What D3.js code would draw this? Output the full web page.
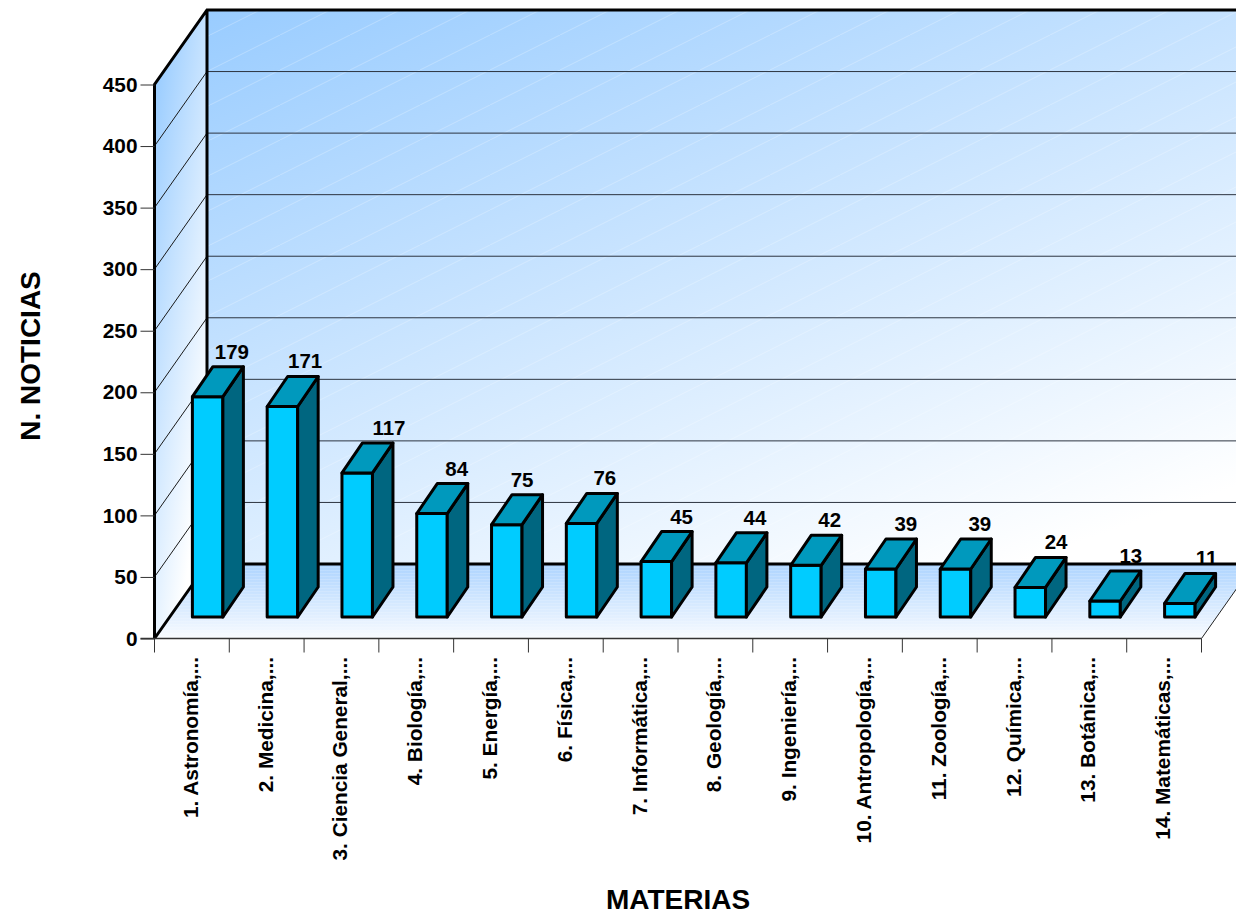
<!DOCTYPE html>
<html><head><meta charset="utf-8">
<script src="https://cdn.jsdelivr.net/npm/d3@7"></script>
<style>
html,body{margin:0;padding:0;background:#fff}
svg{display:block}
text{font-family:"Liberation Sans",Arial,sans-serif;font-weight:bold;fill:#000}
</style></head><body><div id="c"></div>
<script>
const categories=["1. Astronomía,...","2. Medicina,...","3. Ciencia General,...","4. Biología,...","5. Energía,...","6. Física,...","7. Informática,...","8. Geología,...","9. Ingeniería,...","10. Antropología,...","11. Zoología,...","12. Química,...","13. Botánica,...","14. Matemáticas,..."];
const values=[179,171,117,84,75,76,45,44,42,39,39,24,13,11];
const yTicks=[0,50,100,150,200,250,300,350,400,450];
const yTitle="N. NOTICIAS", xTitle="MATERIAS";

const W=1236,H=916;
const pLeft=154.5,pRight=1201.5,pBottom=638.5,pTop=84.5;
const depthX=52.5,depthY=-74.5;
const barDX=20.5,barDY=-30,barInset=-21.5,barShift=15.5;
const labelNudge=[24.5,23,32,25,15.5,23.5,25.5,24,24,25.4,24.6,26,26,27];
const slot=d3.scaleBand().domain(categories).range([pLeft,pRight]);
const y=d3.scaleLinear().domain([0,450]).range([pBottom,pTop]);

const svg=d3.select("#c").append("svg").attr("width",W).attr("height",H);
const defs=svg.append("defs");
function grad(id,x1,y1,x2,y2,stops){
  const g=defs.append("linearGradient").attr("id",id).attr("gradientUnits","userSpaceOnUse")
    .attr("x1",x1).attr("y1",y1).attr("x2",x2).attr("y2",y2);
  stops.forEach(s=>g.append("stop").attr("offset",s[0]).attr("stop-color",s[1]));
}
grad("wall",207,9,471,757,[[0,"#99ccff"],[1,"#ffffff"]]);
grad("side",154,84,254,98,[[0,"#99ccff"],[1,"#ffffff"]]);
grad("floor",0,564,0,640,[[0,"#add4ff"],[1,"#fafcff"]]);
const p1=defs.append("pattern").attr("id","stripes").attr("patternUnits","userSpaceOnUse")
  .attr("width",70).attr("height",35);
p1.append("path").attr("d","M0,35L70,0").attr("stroke","#fff").attr("stroke-opacity",.25).attr("stroke-width",1);
const p2=defs.append("pattern").attr("id","hlines").attr("patternUnits","userSpaceOnUse")
  .attr("width",8).attr("height",3);
p2.append("rect").attr("y",0).attr("width",8).attr("height",1).attr("fill","#fff").attr("fill-opacity",.15);

const poly=pts=>"M"+pts.map(p=>p.join(",")).join("L")+"Z";
const backL=pLeft+depthX, backB=pBottom+depthY, backT=pTop+depthY;

const wallD=poly([[backL,backT],[W+60,backT],[W+60,backB],[backL,backB]]);
svg.append("path").attr("d",wallD).attr("fill","url(#wall)");
svg.append("path").attr("d",wallD).attr("fill","url(#stripes)");
const sideD=poly([[pLeft,pTop],[backL,backT],[backL,backB],[pLeft,pBottom]]);
svg.append("path").attr("d",sideD).attr("fill","url(#side)");
const floorD=poly([[pLeft,pBottom],[pRight,pBottom],[pRight+depthX,backB],[backL,backB]]);
svg.append("path").attr("d",floorD).attr("fill","url(#floor)");
svg.append("path").attr("d",floorD).attr("fill","url(#hlines)");

const inner=yTicks.filter(d=>d>0);
svg.append("g").selectAll("line").data(inner).join("line")
  .attr("x1",backL).attr("x2",W).attr("y1",d=>y(d)+depthY).attr("y2",d=>y(d)+depthY)
  .attr("stroke","#2c3440").attr("stroke-width",1);
svg.append("g").selectAll("line").data(inner.slice(0,-1)).join("line")
  .attr("x1",pLeft).attr("x2",backL).attr("y1",d=>y(d)).attr("y2",d=>y(d)+depthY)
  .attr("stroke","#1a1a1a").attr("stroke-width",1);

svg.append("path").attr("d",`M${pLeft},${pBottom}V${pTop}L${backL},${backT}H${W}M${backL},${backT}V${backB}H${W}M${pLeft},${pBottom}L${backL},${backB}`)
  .attr("fill","none").attr("stroke","#000").attr("stroke-width",3);
svg.append("path").attr("d",`M${pRight},${pBottom}L${pRight+depthX},${backB}`).attr("stroke","#222").attr("stroke-width",1).attr("fill","none");

const yAxis=d3.axisLeft(y).tickValues(yTicks).tickSize(14).tickPadding(3);
const gy=svg.append("g").attr("transform",`translate(${pLeft},0)`).call(yAxis);
gy.select(".domain").remove();
gy.selectAll("line").attr("stroke","#333");
gy.selectAll("text").style("font-size","20.8px").attr("font-family",null);
const edges=d3.range(categories.length+1).map(i=>pLeft+i*slot.bandwidth());
svg.append("g").selectAll("line").data(edges).join("line")
  .attr("x1",d=>d).attr("x2",d=>d).attr("y1",pBottom).attr("y2",pBottom+14).attr("stroke","#333");
svg.append("line").attr("x1",pLeft-14).attr("x2",pRight).attr("y1",pBottom).attr("y2",pBottom).attr("stroke","#333").attr("stroke-width",1.5);

const bw=30.5;
const bars=svg.append("g").selectAll("g").data(categories.map((c,i)=>({c,v:values[i],i}))).join("g");
const bx=d=>slot(d.c)+slot.bandwidth()/2-15+barShift;
const by0=pBottom+barInset;
const h=d=>y(0)-y(d.v);
const barStyle=s=>s.attr("stroke","#000").attr("stroke-width",3).attr("stroke-linejoin","round");
bars.append("path").attr("fill","#00ccff").call(barStyle)
  .attr("d",d=>poly([[bx(d),by0],[bx(d)+bw,by0],[bx(d)+bw,by0-h(d)],[bx(d),by0-h(d)]]));
bars.append("path").attr("fill","#006680").call(barStyle)
  .attr("d",d=>poly([[bx(d)+bw,by0],[bx(d)+bw+barDX,by0+barDY],[bx(d)+bw+barDX,by0-h(d)+barDY],[bx(d)+bw,by0-h(d)]]));
bars.append("path").attr("fill","#0099bd").call(barStyle)
  .attr("d",d=>poly([[bx(d),by0-h(d)],[bx(d)+bw,by0-h(d)],[bx(d)+bw+barDX,by0-h(d)+barDY],[bx(d)+barDX,by0-h(d)+barDY]]));
bars.append("text").attr("x",d=>bx(d)+15+labelNudge[d.i]).attr("y",d=>by0-h(d)+barDY-8)
  .attr("text-anchor","middle").style("font-size","20.5px").text(d=>d.v);

svg.append("g").selectAll("text").data(categories).join("text")
  .attr("transform",d=>`translate(${slot(d)+slot.bandwidth()/2+6},657) rotate(-90)`)
  .attr("text-anchor","end").style("font-size","20.8px").text(d=>d);

svg.append("text").attr("transform","translate(40,356) rotate(-90)").attr("text-anchor","middle").style("font-size","28px").text(yTitle);
svg.append("text").attr("x",678).attr("y",909).attr("text-anchor","middle").style("font-size","28px").text(xTitle);
</script></body></html>
